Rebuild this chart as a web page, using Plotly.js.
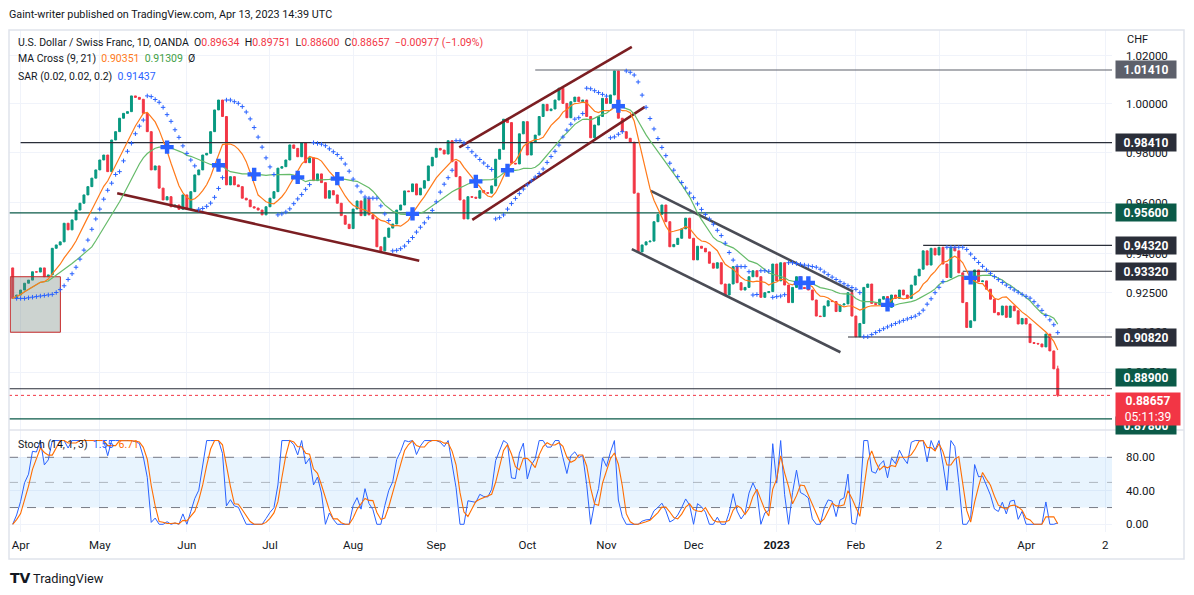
<!DOCTYPE html>
<html><head><meta charset="utf-8">
<script src="https://cdn.plot.ly/plotly-3.0.1.min.js"></script>
<style>html,body{margin:0;padding:0;background:#fff;}#chart{width:1194px;height:595px;}</style>
</head><body><div id="chart"></div>
<script>
// ---------- DATA ----------
const firstOpen = 0.9345;
const closes = [
0.9228,0.9241,0.9260,0.9286,0.9298,0.9330,0.9329,0.9345,0.9311,0.9318,
0.9421,0.9434,0.9446,0.9519,0.9493,0.9532,0.9571,0.9598,0.9631,0.9664,
0.9698,0.9731,0.9771,0.9791,0.9724,0.9852,0.9886,0.9941,0.9961,0.9968,
1.0033,1.0027,1.0019,0.9961,0.9886,0.9731,0.9747,0.9658,0.9611,0.9624,
0.9584,0.9591,0.9574,0.9631,0.9574,0.9644,0.9711,0.9731,0.9791,0.9798,
0.9886,0.9975,1.0016,0.9948,0.9671,0.9704,0.9671,0.9664,0.9618,0.9611,
0.9584,0.9579,0.9571,0.9552,0.9584,0.9618,0.9644,0.9738,0.9744,0.9771,
0.9832,0.9818,0.9784,0.9841,0.9760,0.9780,0.9688,
0.9715,0.9680,0.9618,0.9648,0.9631,0.9598,0.9549,0.9515,0.9498,0.9575,
0.9607,0.9549,0.9618,0.9552,0.9536,0.9427,0.9411,0.9464,0.9500,0.9516,
0.9571,0.9591,0.9647,0.9644,0.9675,0.9631,0.9658,0.9688,0.9747,0.9782,
0.9818,0.9811,0.9795,0.9849,0.9764,0.9704,0.9611,0.9536,0.9624,0.9622,
0.9618,0.9648,0.9640,0.9638,0.9667,0.9774,0.9814,0.9937,0.9923,0.9758,
0.9755,0.9877,0.9927,0.9791,0.9843,0.9872,0.9948,0.9998,0.9972,0.9979,
1.0016,1.0065,1.0002,0.9943,1.0009,1.0028,1.0009,1.0016,0.9948,0.9861,
0.9913,0.9948,1.0023,1.0002,1.0037,1.0137,0.9941,0.9886,0.9859,0.9843,
0.9638,0.9407,0.9434,0.9446,0.9449,0.9525,0.9554,0.9591,0.9525,0.9427,
0.9436,0.9460,0.9497,0.9539,0.9460,0.9376,0.9429,0.9421,0.9407,0.9363,
0.9344,0.9365,0.9283,0.9241,0.9283,0.9350,0.9288,0.9260,0.9270,0.9311,
0.9334,0.9311,0.9232,0.9250,0.9254,0.9360,0.9295,0.9365,0.9279,0.9212,
0.9270,0.9311,0.9270,0.9266,0.9260,0.9222,0.9161,0.9159,0.9199,0.9219,
0.9216,0.9178,0.9203,0.9207,0.9250,0.9161,0.9083,0.9133,0.9270,0.9283,
0.9209,0.9205,0.9225,0.9235,0.9194,0.9241,0.9228,0.9260,0.9241,0.9228,
0.9279,0.9314,0.9340,0.9411,0.9356,0.9421,0.9395,0.9425,0.9360,0.9308,
0.9425,0.9411,0.9326,0.9212,0.9118,0.9143,0.9337,0.9292,0.9295,0.9263,
0.9225,0.9174,0.9165,0.9199,0.9156,0.9199,0.9181,0.9131,0.9152,0.9131,
0.9061,0.9058,0.9056,0.9045,0.9093,0.9030,0.89634,0.88657
];
const lastHigh = 0.89751, lastLow = 0.88600;

const tickIdx  = [2,22,44,65,86,107,130,150,172,193,213,234,256,276];
const tickText = ['Apr','May','Jun','Jul','Aug','Sep','Oct','Nov','Dec','<b>2023</b>','Feb','2','Apr','2'];
const priceTicks = [1.02,1.00,0.98,0.96,0.94,0.925,0.91,0.895];
const stochTicks = [0,40,80];

// horizontal levels drawn on the chart: price, bar index where they start
const levelPrices   = [1.0141, 0.9841, 0.9560, 0.9432, 0.9332, 0.9082, 0.8890, 0.8780];
const levelStartIdx = [132, 2, -1, 230, 240, 211, -1, -1];
const lastPrice = 0.88657;
const countdown = '05:11:39';

// trend lines: [startIdx, startPrice, endIdx, endPrice]
const maroonLines = [[26.4,0.9638,102.7,0.9373],[112.8,0.9822,156.4,1.0238],[116.1,0.9532,159.7,0.9988]];
const grayLines   = [[161.2,0.9647,212.3,0.9254],[156.4,0.9418,209.1,0.9025]];
// rectangle: [idx0, idx1, priceLow, priceHigh]
const boxZone = [-0.6, 12.05, 0.9100, 0.9311];

// ---------- INDICATORS ----------
const n = closes.length;
const idx = closes.map((_, i) => i);
const opens = closes.map((c, i) => i === 0 ? firstOpen : closes[i - 1]);
const highs = closes.map((c, i) => Math.max(c, opens[i]));
const lows  = closes.map((c, i) => Math.min(c, opens[i]));
highs[n - 1] = lastHigh; lows[n - 1] = lastLow;

function sma(arr, p) {
  return arr.map((_, i) => { const s = Math.max(0, i - p + 1); let t = 0; for (let j = s; j <= i; j++) t += arr[j]; return t / (i - s + 1); });
}
const ma9 = sma(closes, 9), ma21 = sma(closes, 21);
const crossX = [], crossY = [];
for (let i = 1; i < n; i++) {
  if ((ma9[i] - ma21[i]) * (ma9[i - 1] - ma21[i - 1]) < 0) { crossX.push(i); crossY.push(ma21[i]); }
}
function psar(h, l, start, inc, mx) {
  const out = new Array(h.length).fill(null);
  let up = closes[1] >= closes[0];
  let af = start, ep = up ? h[0] : l[0], sar = up ? l[0] : h[0];
  for (let i = 1; i < h.length; i++) {
    let nx = sar + af * (ep - sar);
    if (up) {
      nx = Math.min(nx, l[i - 1], l[Math.max(0, i - 2)]);
      if (l[i] < nx) { up = false; nx = ep; ep = l[i]; af = start; }
      else if (h[i] > ep) { ep = h[i]; af = Math.min(af + inc, mx); }
    } else {
      nx = Math.max(nx, h[i - 1], h[Math.max(0, i - 2)]);
      if (h[i] > nx) { up = true; nx = ep; ep = h[i]; af = start; }
      else if (l[i] < ep) { ep = l[i]; af = Math.min(af + inc, mx); }
    }
    sar = nx; out[i] = sar;
  }
  return out;
}
const sar = psar(highs, lows, 0.02, 0.02, 0.2);
const kLine = closes.map((c, i) => {
  const s = Math.max(0, i - 13); let hh = -Infinity, ll = Infinity;
  for (let j = s; j <= i; j++) { hh = Math.max(hh, highs[j]); ll = Math.min(ll, lows[j]); }
  return hh === ll ? 50 : 100 * (c - ll) / (hh - ll);
});
const dLine = sma(kLine, 3);

// ---------- LAYOUT HELPERS ----------
const W = 1194, H = 595, ML = 9, MR = 82, MT = 30, MB = 36;
const PW = W - ML - MR, PH = H - MT - MB;
const X0 = -0.93, X1 = 277.7;
const px = x => (x - ML) / PW;
const py = y => (H - MB - y) / PH;
const FONT = 'Roboto, "Liberation Sans", sans-serif';
const TXT = '#131722';
const RED = '#f23645', UP = '#089981', BLUE = '#2962ff', ORANGE = '#ff7a1a', GREEN = '#66bb6a';
const DGREEN = '#0b5a48', DARK = '#2a2e39';

const traces = [];
traces.push({x:[boxZone[0],boxZone[1],boxZone[1],boxZone[0],boxZone[0]], y:[boxZone[2],boxZone[2],boxZone[3],boxZone[3],boxZone[2]],
  mode:'lines', fill:'toself', fillcolor:'rgba(110,130,120,0.35)', line:{color:'#c62828', width:1}, hoverinfo:'skip', xaxis:'x', yaxis:'y'});
const levelColors = ['#5d606b', DARK, DGREEN, DARK, DARK, DARK, DARK, DGREEN];
levelPrices.forEach((p, k) => {
  traces.push({x:[Math.max(levelStartIdx[k], X0), X1], y:[p, p], mode:'lines', line:{color:levelColors[k], width:1.2}, hoverinfo:'skip', xaxis:'x', yaxis:'y'});
});
traces.push({x:[X0, X1], y:[lastPrice, lastPrice], mode:'lines', line:{color:RED, width:1, dash:'dot'}, hoverinfo:'skip', xaxis:'x', yaxis:'y'});
maroonLines.forEach(l => traces.push({x:[l[0], l[2]], y:[l[1], l[3]], mode:'lines', line:{color:'#7b1e22', width:2.6}, hoverinfo:'skip', xaxis:'x', yaxis:'y'}));
grayLines.forEach(l => traces.push({x:[l[0], l[2]], y:[l[1], l[3]], mode:'lines', line:{color:'#4a4c55', width:2.6}, hoverinfo:'skip', xaxis:'x', yaxis:'y'}));
traces.push({x:idx, y:ma21, mode:'lines', line:{color:GREEN, width:1.2}, hoverinfo:'skip', xaxis:'x', yaxis:'y'});
traces.push({x:idx, y:ma9, mode:'lines', line:{color:ORANGE, width:1.2}, hoverinfo:'skip', xaxis:'x', yaxis:'y'});
traces.push({type:'candlestick', x:idx, open:opens, high:highs, low:lows, close:closes, xaxis:'x', yaxis:'y',
  increasing:{line:{color:UP, width:1}, fillcolor:UP}, decreasing:{line:{color:RED, width:1}, fillcolor:RED}, whiskerwidth:0, hoverinfo:'skip'});
traces.push({x:idx, y:sar, mode:'markers', marker:{symbol:'cross-thin', size:3.2, line:{color:BLUE, width:1}}, hoverinfo:'skip', xaxis:'x', yaxis:'y'});
traces.push({x:crossX, y:crossY, mode:'markers', marker:{symbol:'cross', size:11, color:BLUE, line:{width:0}}, hoverinfo:'skip', xaxis:'x', yaxis:'y'});
traces.push({x:[X0, X1], y:[20, 20], mode:'lines', line:{color:'rgba(0,0,0,0)', width:0}, hoverinfo:'skip', xaxis:'x', yaxis:'y2'});
traces.push({x:[X0, X1], y:[80, 80], mode:'lines', fill:'tonexty', fillcolor:'rgba(33,150,243,0.1)', line:{color:'#787b86', width:1, dash:'dash'}, hoverinfo:'skip', xaxis:'x', yaxis:'y2'});
traces.push({x:[X0, X1], y:[20, 20], mode:'lines', line:{color:'#787b86', width:1, dash:'dash'}, hoverinfo:'skip', xaxis:'x', yaxis:'y2'});
traces.push({x:[X0, X1], y:[50, 50], mode:'lines', line:{color:'rgba(120,123,134,0.5)', width:1, dash:'dash'}, hoverinfo:'skip', xaxis:'x', yaxis:'y2'});
traces.push({x:idx, y:kLine, mode:'lines', line:{color:BLUE, width:1}, hoverinfo:'skip', xaxis:'x', yaxis:'y2'});
traces.push({x:idx, y:dLine, mode:'lines', line:{color:'#ff6d00', width:1.1}, hoverinfo:'skip', xaxis:'x', yaxis:'y2'});

// ---------- ANNOTATIONS ----------
const ann = [];
const sp = '\u00a0';
function txt(x, y, text, size, color, extra) {
  ann.push(Object.assign({xref:'paper', yref:'paper', x:px(x), y:py(y), xanchor:'left', yanchor:'middle', showarrow:false,
    text:text, font:{family:FONT, size:size, color:color}, borderpad:0}, extra || {}));
}
const r = s => `<span style="color:${RED}">${s}</span>`;
txt(8, 15, 'Gaint-writer published on TradingView.com, Apr 13, 2023 14:39 UTC', 10.8, TXT);
txt(17, 42, `U.S. Dollar / Swiss Franc, 1D, OANDA${sp}${sp}O${r(opens[n-1].toFixed(5))}${sp}${sp}H${r(lastHigh.toFixed(5))}${sp}${sp}L${r(lastLow.toFixed(5))}${sp}${sp}C${r(closes[n-1].toFixed(5))}${sp}${sp}${r('−0.00977 (−1.09%)')}`, 10.5, TXT);
txt(17, 59, `MA Cross (9, 21)${sp}${sp}<span style="color:${ORANGE}">0.90351</span>${sp}${sp}<span style="color:#43a047">0.91309</span>${sp}${sp}Ø`, 10.5, TXT);
txt(17, 77, `SAR (0.02, 0.02, 0.2)${sp}${sp}<span style="color:${BLUE}">0.91437</span>`, 10.5, TXT);
txt(17, 445, `Stoch (14, 1, 3)${sp}${sp}<span style="color:${BLUE}">1.55</span>${sp}${sp}<span style="color:#ff6d00">6.71</span>`, 10.5, TXT);
txt(1126, 40, 'CHF', 11, TXT);
txt(9, 578, '<b>TV</b>', 14, TXT, {font:{family:'"DejaVu Sans", sans-serif', size:14, color:TXT}});
txt(32, 578, 'TradingView', 12.8, TXT);

const labelBg = ['#5d606b', DARK, DGREEN, DARK, DARK, DARK, DGREEN, DGREEN];
const labelShift = [0, 0, 0, 0, 0, 0, 11, -7];
levelPrices.forEach((p, k) => {
  ann.push({xref:'paper', yref:'y', x:1, y:Math.log10(p), xanchor:'left', yanchor:'middle', xshift:3, yshift:labelShift[k], showarrow:false,
    text:`<b>${p.toFixed(5)}</b>`, font:{family:FONT, size:12, color:'#fff'}, bgcolor:labelBg[k], borderpad:2, width:56, height:13});
});
ann.push({xref:'paper', yref:'y', x:1, y:Math.log10(lastPrice), xanchor:'left', yanchor:'top', xshift:3, yshift:3, showarrow:false,
  text:`<b>${lastPrice.toFixed(5)}</b><br>${countdown}`, font:{family:FONT, size:12, color:'#fff'}, bgcolor:RED, borderpad:2, width:60, height:28});

const shapes = [
  {type:'rect', xref:'paper', yref:'paper', x0:px(9), x1:px(1184), y0:py(559), y1:py(30), line:{color:'#e0e3eb', width:1.5}},
  {type:'line', xref:'paper', yref:'paper', x0:px(9), x1:px(1184), y0:py(430), y1:py(430), line:{color:'#e0e3eb', width:1.5}}
];

const layout = {
  width:W, height:H, margin:{l:ML, r:MR, t:MT, b:MB}, paper_bgcolor:'#fff', plot_bgcolor:'#fff', showlegend:false,
  font:{family:FONT, color:TXT},
  boxgap:0.3,
  xaxis:{range:[X0, X1], anchor:'y2', tickvals:tickIdx, ticktext:tickText, showgrid:true, gridcolor:'#f0f3fa', zeroline:false, showline:false,
    ticks:'', tickfont:{size:11.5, color:TXT}, ticklabelstandoff:4, rangeslider:{visible:false}, fixedrange:true},
  yaxis:{domain:[py(430), 1], type:'log', range:[Math.log10(0.87398), Math.log10(1.03099)], side:'right', tickvals:priceTicks,
    ticktext:priceTicks.map(v => v.toFixed(5)), showgrid:true, gridcolor:'#f0f3fa', zeroline:false, ticks:'', tickfont:{size:11.5, color:TXT}, ticklabelstandoff:13},
  yaxis2:{domain:[py(532), py(430)], range:[-9.2, 112.6], side:'right', tickvals:stochTicks, ticktext:stochTicks.map(v => v.toFixed(2)),
    showgrid:true, gridcolor:'#f0f3fa', zeroline:false, ticks:'', tickfont:{size:11.5, color:TXT}, ticklabelstandoff:13},
  annotations:ann, shapes:shapes
};
Plotly.newPlot('chart', traces, layout, {staticPlot:true, displayModeBar:false});
</script></body></html>
